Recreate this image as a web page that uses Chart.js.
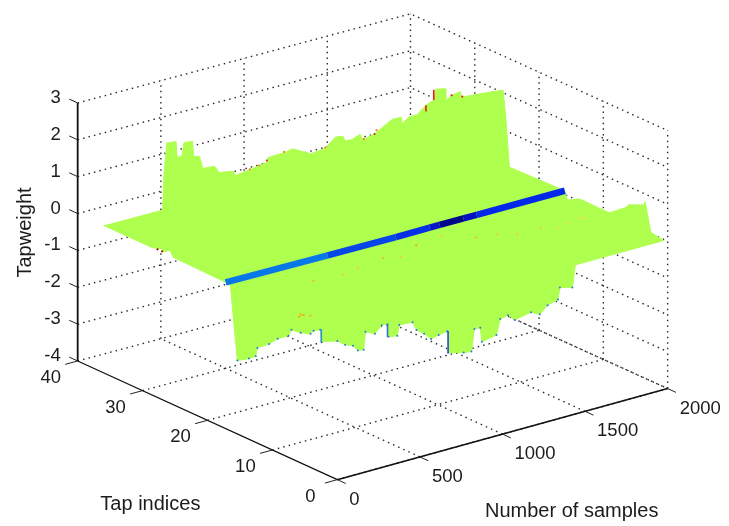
<!DOCTYPE html>
<html>
<head>
<meta charset="utf-8">
<style>
  html, body { margin: 0; padding: 0; background: #fff; }
  canvas { display: block; filter: blur(0.35px); }
</style>
<script src="https://cdn.jsdelivr.net/npm/chart.js@4/dist/chart.umd.js"></script>
</head>
<body>
<canvas id="surface" width="729" height="526"></canvas>
<script>
const sampleTicks = [0, 500, 1000, 1500, 2000];
const tapTicks = [0, 10, 20, 30, 40];
const weightTicks = [-4, -3, -2, -1, 0, 1, 2, 3];

// upper ridge of the surface
const ridgeSamples = [0, 0, 8, 25, 77, 83, 112, 124, 176, 182, 217, 234, 304, 333, 414, 426, 519, 612, 618, 711, 763, 821, 867, 955, 1013, 1059, 1071, 1111, 1158, 1170, 1187, 1245, 1303, 1350, 1402, 1408, 1448, 1495, 1547, 1594, 1605, 1658, 1663, 1698, 1751, 1756, 1808, 1930, 1994, 2000, 2000, 2000, 2000];
const ridgeTaps = [26.9, 26.9, 26.9, 26.9, 26.8, 26.8, 26.8, 26.8, 26.8, 26.8, 26.8, 26.7, 26.7, 26.7, 26.6, 26.6, 26.6, 26.5, 26.5, 26.4, 26.4, 26.4, 26.3, 26.3, 26.2, 26.2, 26.2, 26.2, 26.1, 26.1, 26.1, 26.1, 26.0, 26.0, 26.0, 26.0, 26.0, 25.9, 25.9, 25.9, 25.9, 25.8, 25.8, 25.8, 25.8, 25.8, 25.7, 25.6, 25.6, 25.6, 25.2, 24.9, 24.6];
const ridgeWeights = [0, 1.21, 2.14, 2.94, 2.92, 2.48, 2.49, 2.83, 2.81, 2.39, 2.35, 2.01, 1.98, 1.78, 1.72, 1.59, 1.65, 1.73, 1.85, 1.88, 1.92, 1.78, 1.67, 1.70, 1.95, 1.92, 1.78, 1.76, 1.86, 1.72, 1.70, 1.76, 1.93, 2.04, 2.03, 1.84, 1.98, 2.0, 2.19, 2.27, 2.55, 2.51, 2.18, 2.28, 2.32, 2.16, 2.15, 2.11, 2.07, 2.07, 1.42, 0.72, 0];

// lower trough of the surface
const troughSamples = [0, 70, 111, 117, 188, 240, 305, 323, 375, 434, 452, 493, 499, 592, 639, 686, 716, 751, 762, 815, 856, 891, 897, 950, 962, 1038, 1062, 1108, 1150, 1196, 1243, 1249, 1343, 1390, 1408, 1443, 1449, 1537, 1560, 1607, 1648, 1742, 1795, 1842, 1901, 1912, 1988];
const troughTaps = [15.4, 15.4, 15.4, 15.3, 15.3, 15.3, 15.3, 15.3, 15.2, 15.2, 15.2, 15.2, 15.2, 15.1, 15.1, 15.1, 15.1, 15.1, 15.1, 15, 15, 15, 15, 15, 15, 14.9, 14.9, 14.9, 14.9, 14.9, 14.8, 14.8, 14.8, 14.8, 14.8, 14.8, 14.7, 14.7, 14.7, 14.7, 14.7, 14.6, 14.6, 14.6, 14.5, 14.5, 14.5];
const troughWeights = [-2.01, -2.04, -2.03, -1.80, -1.78, -1.70, -1.70, -1.56, -1.70, -1.80, -1.74, -1.76, -2.09, -2.18, -2.34, -2.42, -2.59, -2.61, -2.14, -2.25, -2.07, -2.08, -2.43, -2.47, -2.19, -2.20, -2.44, -2.60, -2.79, -2.74, -2.69, -3.28, -3.39, -3.42, -2.83, -2.84, -3.22, -3.14, -2.74, -2.69, -2.87, -2.77, -2.89, -2.70, -2.61, -2.30, -2.39];
const troughLeftTaps = [16.5, 16];
const troughLeftWeights = [0, -0.93];

// flat part behind the blue strip, edge at sample 0
const backEdgeTaps = [36, 28.5, 25.8, 25.3, 17.1, 16.5];
const backEdgeWeights = [0, 0, 0.16, 0, -0.03, 0];

// flat part in front of the blue strip, edge at sample 2000
const frontEdgeTaps = [16, 15.6, 13.7, 9.1, 6.6, 6, 3.7, 3.5, 2.6, 0.6];
const frontEdgeWeights = [0.1, -0.12, 0.06, 0.05, 0.38, 0.51, 0.69, 0.79, 0.03, -0.03];

const stripSamples = [0, 600, 1000, 1200, 1260, 1400, 1480, 2000];
const stripTaps = [17.2, 16.8, 16.5, 16.4, 16.4, 16.3, 16.3, 16];
const stripWeights = [-0.03, 0, 0.03, 0.05, 0.05, 0.06, 0.06, 0.1];
const stripColors = ['#0878e8', '#0846e8', '#0830e8', '#0818c8', '#00088c', '#0010c0', '#0428ea'];

const spikeSamples = [1594, 1547, 499, 891, 1249];
const spikeTaps = [25.9, 25.9, 15.2, 15, 14.8];
const spikeLow = [2.27, 2.02, -2.09, -2.43, -3.28];
const spikeHigh = [2.55, 2.19, -1.76, -2.08, -2.69];
const spikeColors = ['#f01818', '#f01818', '#2a90e8', '#2a70e8', '#3048f0'];

const speckSamples = [1017, 1187, 1306, 1409, 1487, 1626, 1705, 1783, 1857, 1880, 788, 860, 609, 496, 335, 364, 375, 393, 434, 513, 565, 612, 711, 955, 1180, 1245, 1257, 1698, 1762, 0, 0];
const speckTaps = [13.8, 14.2, 12, 11.4, 10.2, 10.1, 9.3, 9.7, 9.9, 9.9, 13, 12.2, 12.4, 11.8, 12.2, 15.2, 15.2, 15.2, 15.2, 26.6, 26.5, 26.5, 26.4, 26.3, 26.1, 26.1, 26.1, 25.8, 25.8, 27.7, 27];
const speckWeights = [0, 0, 0, 0, 0, 0, 0, 0, 0, 0, 0, 0, 0, 0, 0, -1.25, -1.2, -1.24, -1.31, 1.65, 1.70, 1.78, 1.90, 1.73, 1.7, 1.76, 1.85, 2.28, 2.17, 0.02, 0.02];
const speckColors = ['#ffa020', '#ffc030', '#ffb030', '#ffc030', '#ffc030', '#ffc030', '#ffd040', '#ffd040', '#ffd040', '#ffd040', '#ffb030', '#ffc040', '#ffc040', '#ffc040', '#ffb030', '#ff9c10', '#ff9c10', '#ff9c10', '#ffa820', '#ff8030', '#ff8030', '#e83018', '#ff8030', '#ff8030', '#ff8030', '#c04010', '#ff8030', '#f01818', '#f01818', '#800010', '#a01010'];

const green = '#afff4f';
const maxSample = 2000;
const maxTap = 40;
const unitHeight = 37.43;

// screen corners of the box floor
const origin = [337, 483];
const sampleEnd = [671, 390.5];
const tapEnd = [74.5, 362.5];
const farEnd = [411, 272];

function project(sample, tap, weight) {
  const u = sample / maxSample;
  const v = tap / maxTap;
  const mix = (i) => origin[i] * (1 - u) * (1 - v) + sampleEnd[i] * u * (1 - v) + tapEnd[i] * (1 - u) * v + farEnd[i] * u * v;

  return { x: mix(0), y: mix(1) - (weight + 4) * unitHeight };
}

function pointsOf(samples, taps, weights) {
  return samples.map((s, i) => project(s, taps[i], weights[i]));
}

function line(points, color, width, dash) {
  return {
    data: points,
    showLine: true,
    borderColor: color,
    borderWidth: width,
    borderDash: dash || [],
    pointRadius: 0,
    tension: 0,
    fill: false
  };
}

function shape(points) {
  return {
    data: points,
    showLine: true,
    borderColor: green,
    backgroundColor: green,
    borderWidth: 1,
    pointRadius: 0,
    tension: 0,
    fill: 'shape'
  };
}

function gridLines() {
  const dash = [1.5, 4.1];
  const color = '#2a2a2a';
  const width = 1.4;
  const lines = [];

  // back wall at tap 40 and side wall at sample 2000
  weightTicks.forEach((w) => {
    lines.push(line([project(0, maxTap, w), project(maxSample, maxTap, w), project(maxSample, 0, w)], color, width, dash));
  });
  sampleTicks.slice(1).forEach((s) => {
    lines.push(line([project(s, maxTap, -4), project(s, maxTap, 3)], color, width, dash));
    lines.push(line([project(s, 0, -4), project(s, maxTap, -4)], color, width, dash));
  });
  tapTicks.slice(0, -1).forEach((t) => {
    lines.push(line([project(maxSample, t, -4), project(maxSample, t, 3)], color, width, dash));
    lines.push(line([project(0, t, -4), project(maxSample, t, -4)], color, width, dash));
  });

  return lines;
}

function axisLines() {
  const lines = [
    line([project(0, maxTap, -4), project(0, maxTap, 3)], '#111', 1.8),
    line([project(0, maxTap, -4), project(0, 0, -4)], '#111', 1.3),
    line([project(0, 0, -4), project(maxSample, 0, -4)], '#111', 1.6)
  ];

  weightTicks.forEach((w) => {
    lines.push(line([project(0, maxTap, w), project(0, maxTap + 1.3, w)], '#222', 1));
  });
  tapTicks.forEach((t) => {
    lines.push(line([project(0, t, -4), project(-75, t, -4)], '#222', 1));
  });
  sampleTicks.forEach((s) => {
    lines.push(line([project(s, 0, -4), project(s, -1.3, -4)], '#222', 1));
  });

  return lines;
}

function surfaceShapes() {
  const backPlate = [
    ...backEdgeTaps.map((t, i) => project(0, t, backEdgeWeights[i])),
    project(maxSample, 16, 0.1),
    project(maxSample, 36, 0)
  ];

  const ridge = pointsOf(ridgeSamples, ridgeTaps, ridgeWeights);

  const trough = [
    ...troughLeftTaps.map((t, i) => project(0, t, troughLeftWeights[i])),
    ...pointsOf(troughSamples, troughTaps, troughWeights),
    project(maxSample, 14.3, -1.7),
    project(maxSample, 14.3, 0)
  ];

  const frontPlate = [
    project(0, 16.5, 0),
    ...frontEdgeTaps.map((t, i) => project(maxSample, t, frontEdgeWeights[i])),
    project(0, 0.6, -0.03)
  ];

  return [shape(backPlate), shape(ridge), shape(trough), shape(frontPlate)];
}

function strip() {
  const set = line(pointsOf(stripSamples, stripTaps, stripWeights), stripColors[0], 6.5);
  set.borderCapStyle = 'butt';
  set.segment = { borderColor: (ctx) => stripColors[ctx.p0DataIndex] };
  return set;
}

function spikes() {
  return spikeSamples.map((s, i) => line(
    [project(s, spikeTaps[i], spikeLow[i]), project(s, spikeTaps[i], spikeHigh[i])],
    spikeColors[i],
    1.6
  ));
}

function specks() {
  return {
    data: pointsOf(speckSamples, speckTaps, speckWeights),
    showLine: false,
    pointRadius: 1.1,
    pointBorderWidth: 0,
    pointBackgroundColor: speckColors
  };
}

function edgeDots() {
  return {
    data: pointsOf(troughSamples, troughTaps, troughWeights),
    showLine: false,
    pointRadius: 1,
    pointBorderWidth: 0,
    pointBackgroundColor: '#2a7ae8'
  };
}

const axisText = {
  id: 'axisText',
  afterDraw(chart) {
    const { ctx, scales } = chart;
    const put = (text, pt, dx, dy, align) => {
      ctx.textAlign = align;
      ctx.fillText(text, scales.x.getPixelForValue(pt.x) + dx, scales.y.getPixelForValue(pt.y) + dy);
    };

    ctx.save();
    ctx.fillStyle = '#1c1c1c';
    ctx.textBaseline = 'middle';
    ctx.font = '18.5px "Liberation Sans"';

    weightTicks.forEach((w) => put(String(w), project(0, maxTap, w), -17, -5, 'right'));
    tapTicks.forEach((t) => put(String(t), project(0, t, -4), -27, 17, 'center'));
    sampleTicks.forEach((s) => put(String(s), project(s, 0, -4), 12, 20, 'left'));

    ctx.font = '20px "Liberation Sans"';
    ctx.textAlign = 'center';
    ctx.fillText('Tap indices', scales.x.getPixelForValue(148), scales.y.getPixelForValue(508));
    ctx.fillText('Number of samples', scales.x.getPixelForValue(574), scales.y.getPixelForValue(515));

    ctx.translate(scales.x.getPixelForValue(22), scales.y.getPixelForValue(232));
    ctx.rotate(-Math.PI / 2);
    ctx.fillText('Tapweight', 0, 0);
    ctx.restore();
  }
};

// Chart.js paints the first dataset last, so the list is built back to front
const layers = [
  ...gridLines(),
  ...axisLines(),
  ...surfaceShapes(),
  strip(),
  edgeDots(),
  ...spikes(),
  specks()
].reverse();

new Chart(document.getElementById('surface'), {
  type: 'scatter',
  data: { datasets: layers },
  options: {
    responsive: false,
    animation: false,
    layout: { padding: 0 },
    plugins: { legend: { display: false }, tooltip: { enabled: false } },
    scales: {
      x: { type: 'linear', min: 0, max: 729, display: false },
      y: { type: 'linear', min: 0, max: 526, reverse: true, display: false }
    }
  },
  plugins: [axisText]
});
</script>
</body>
</html>
